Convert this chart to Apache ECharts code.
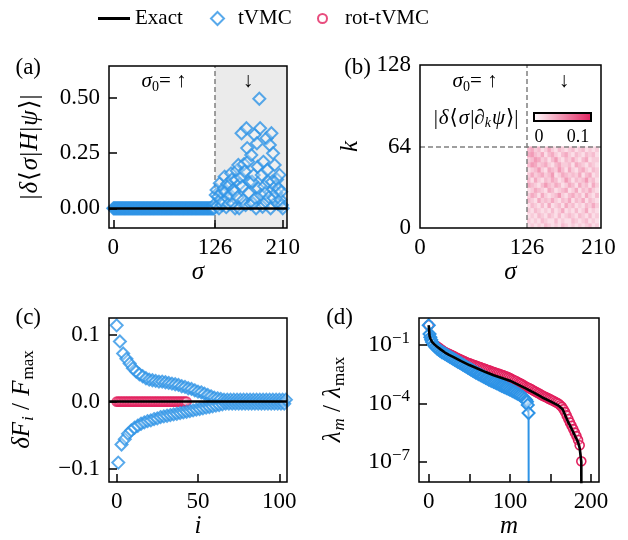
<!DOCTYPE html>
<html><head><meta charset="utf-8">
<script src="https://cdn.jsdelivr.net/npm/echarts@6/dist/echarts.min.js"></script>
<style>html,body{margin:0;padding:0;background:#fff}#c{width:628px;height:540px}</style>
</head><body><div id="c"></div>
<script>
// ---------------- data ----------------
// (a) |δ<σ|H|ψ>| for tVMC, σ = 0..210
const tvmcHLeft = [
 0,0,0,0,0,0,0,0,0,0,0,0,0,0,0,0,0,0,
 0,0,0,0,0,0,0,0,0,0,0,0,0,0,0,0,0,0,
 0,0,0,0,0,0,0,0,0,0,0,0,0,0,0,0,0,0,
 0,0,0,0,0,0,0,0,0,0,0,0,0,0,0,0,0,0,
 0,0,0,0,0,0,0,0,0,0,0,0,0,0,0,0,0,0,
 0,0,0,0,0,0,0,0,0,0,0,0,0,0,0,0,0,0,
 0,0,0,0,0,0,0,0,0,0,0,0,0,0,0,0,0,0
];
const tvmcHRight = [
 0.02,0.06,0.083,0.01,0.053,0.0,0.113,0.04,0.07,0.015,
 0.03,0.09,0.143,0.075,0.005,0.11,0.045,0.02,0.105,0.06,
 0.158,0.13,0.023,0.085,0.075,0.0,0.128,0.17,0.05,0.196,
 0.0,0.11,0.14,0.339,0.098,0.038,0.2,0.166,0.015,0.362,
 0.272,0.211,0.068,0.12,0.02,0.241,0.12,0.023,0.15,0.332,
 0.045,0.0,0.294,0.188,0.09,0.495,0.362,0.06,0.151,0.007,
 0.21,0.1,0.068,0.03,0.317,0.173,0.12,0.05,0.286,0.0,
 0.339,0.12,0.249,0.045,0.196,0.098,0.07,0.13,0.02,0.09,
 0.151,0.04,0.075,0.015,0.0
];
const sigmaSplit = 126;
const ticksAx = [0, 126, 210];
const ticksAy = [0, 0.25, 0.5];

// (b) |δ<σ|∂kψ>| heat map, cells of 4x4 starting at σ=126, k=0 (rows from k=0 upward)
const heatSigma0 = 126, heatCell = 4, heatMax = 0.1;
const heatRows = [
 [0.015,0.023,0.015,0.023,0.015,0.03,0.023,0.015,0.023,0.015,0.03,0.023,0.015,0.023,0.015,0.023,0.015,0.023,0.03,0.015,0.023],
 [0.023,0.015,0.023,0.015,0.03,0.023,0.015,0.015,0.03,0.015,0.023,0.015,0.015,0.03,0.023,0.015,0.023,0.03,0.015,0.023,0.015],
 [0.015,0.023,0.015,0.03,0.023,0.015,0.03,0.023,0.015,0.03,0.015,0.023,0.03,0.023,0.015,0.03,0.023,0.015,0.03,0.015,0.023],
 [0.023,0.015,0.03,0.023,0.015,0.023,0.015,0.03,0.015,0.023,0.038,0.015,0.023,0.015,0.03,0.015,0.023,0.038,0.015,0.023,0.015],
 [0.015,0.03,0.023,0.015,0.03,0.015,0.038,0.015,0.023,0.03,0.015,0.038,0.023,0.03,0.015,0.023,0.015,0.03,0.023,0.038,0.023],
 [0.03,0.023,0.015,0.038,0.023,0.03,0.023,0.038,0.023,0.015,0.03,0.023,0.038,0.015,0.03,0.023,0.038,0.015,0.03,0.023,0.015],
 [0.023,0.038,0.03,0.015,0.038,0.023,0.015,0.023,0.03,0.045,0.023,0.015,0.03,0.038,0.023,0.03,0.015,0.038,0.023,0.015,0.03],
 [0.015,0.023,0.038,0.03,0.023,0.015,0.038,0.03,0.015,0.023,0.03,0.038,0.015,0.023,0.038,0.015,0.03,0.023,0.038,0.023,0.015],
 [0.038,0.03,0.023,0.015,0.03,0.045,0.03,0.023,0.038,0.03,0.015,0.023,0.038,0.03,0.015,0.038,0.023,0.03,0.015,0.038,0.023],
 [0.03,0.015,0.038,0.023,0.015,0.03,0.023,0.038,0.03,0.015,0.023,0.045,0.03,0.015,0.03,0.023,0.03,0.045,0.023,0.03,0.015],
 [0.023,0.038,0.023,0.03,0.038,0.023,0.03,0.045,0.015,0.023,0.038,0.03,0.023,0.03,0.023,0.038,0.015,0.03,0.038,0.015,0.023],
 [0.015,0.023,0.03,0.045,0.023,0.015,0.038,0.03,0.023,0.045,0.03,0.015,0.038,0.023,0.015,0.03,0.038,0.023,0.015,0.03,0.023],
 [0.03,0.045,0.038,0.023,0.03,0.038,0.023,0.015,0.03,0.038,0.023,0.023,0.03,0.015,0.038,0.03,0.023,0.015,0.03,0.023,0.015],
 [0.023,0.03,0.045,0.038,0.023,0.03,0.015,0.03,0.045,0.023,0.015,0.03,0.023,0.038,0.023,0.015,0.03,0.038,0.015,0.023,0.023],
 [0.038,0.045,0.03,0.023,0.038,0.015,0.03,0.038,0.023,0.015,0.03,0.038,0.023,0.015,0.03,0.023,0.015,0.03,0.023,0.03,0.015],
 [0.03,0.038,0.023,0.03,0.015,0.023,0.038,0.023,0.015,0.03,0.023,0.015,0.023,0.03,0.015,0.023,0.03,0.015,0.023,0.015,0.023]
];
const ticksBx = [0, 126, 210];
const ticksBy = [0, 64, 128];
const colorbarLabels = ['0', '0.1'];

// (c) δF_i / F_max, i = 0..104
const tvmcF = [
 0.114,-0.091,0.090,-0.064,0.072,-0.056,0.064,-0.048,0.057,-0.043,
 0.050,-0.039,0.045,-0.036,0.041,-0.033,0.038,-0.031,0.035,-0.029,
 0.033,-0.028,0.032,-0.026,0.031,-0.025,0.030,-0.023,0.030,-0.022,
 0.029,-0.021,0.028,-0.020,0.027,-0.019,0.026,-0.018,0.025,-0.017,
 0.023,-0.016,0.022,-0.015,0.020,-0.014,0.019,-0.013,0.017,-0.012,
 0.015,-0.011,0.014,-0.010,0.012,-0.009,0.010,-0.008,0.008,-0.007,
 0.006,-0.006,0.005,-0.005,0.004,-0.004,0.003,-0.003,0.003,-0.003,
 0.003,-0.003,0.003,-0.003,0.003,-0.003,0.003,-0.003,0.003,-0.003,
 0.003,-0.003,0.003,-0.003,0.003,-0.003,0.003,-0.003,0.003,-0.003,
 0.003,-0.003,0.003,-0.003,0.003,-0.003,0.003,-0.003,0.003,-0.003,
 0.003,-0.003,0.003,-0.003,0.003
];
const rotF = [
 0,0,0,0,0,0,0,0,0,0,0,0,0,0,0,0,0,0,0,0,0,0,
 0,0,0,0,0,0,0,0,0,0,0,0,0,0,0,0,0,0,0,0,0,0
];
const ticksCx = [0, 50, 100];
const ticksCy = [-0.1, 0, 0.1];

// (d) log10(λ_m/λ_max); ZERO marks λ = 0 (falls below the axis floor)
const ZERO = -30;
const exactSpec = [[0,0],[1,-0.55],[2,-0.68],[4,-0.85],[7,-0.98],[10,-1.09],[15,-1.25],[20,-1.4],
 [25,-1.52],[30,-1.62],[40,-1.84],[50,-2.04],[60,-2.22],[70,-2.4],[80,-2.56],[90,-2.7],[100,-2.84],
 [110,-3.04],[120,-3.25],[130,-3.47],[140,-3.7],[150,-3.9],[160,-4.12],[165,-4.3],[168,-4.6],
 [172,-4.98],[176,-5.3],[180,-5.65],[184,-5.99],[186,-6.3],[188,-7.0],[189,ZERO]];
const tvmcSpec = [[0,0],[1,-0.45],[2,-0.62],[3,-0.75],[4,-0.86],
 [6,-1.0],[8,-1.1],[10,-1.18],[12,-1.25],[14,-1.31],[16,-1.37],[18,-1.42],[20,-1.47],[22,-1.52],[24,-1.57],
 [26,-1.62],[28,-1.67],[30,-1.72],[32,-1.77],[34,-1.82],[36,-1.87],[38,-1.92],[40,-1.97],[42,-2.02],[44,-2.07],
 [46,-2.12],[48,-2.17],[50,-2.22],[52,-2.27],[54,-2.32],[56,-2.37],[58,-2.42],[60,-2.46],[62,-2.51],[64,-2.55],
 [66,-2.6],[68,-2.64],[70,-2.69],[72,-2.73],[74,-2.78],[76,-2.82],[78,-2.86],[80,-2.9],[82,-2.94],[84,-2.98],
 [86,-3.02],[88,-3.06],[90,-3.1],[92,-3.14],[94,-3.18],[96,-3.22],[98,-3.26],[100,-3.3],[102,-3.34],[104,-3.38],
 [106,-3.42],[108,-3.47],[110,-3.52],[112,-3.57],[114,-3.62],[116,-3.68],[118,-3.75],[120,-3.83],
 [121,-3.92],[122,-4.08],[123,-4.5],[124,ZERO]];
const rotSpec = [[0,0],[2,-0.66],[4,-0.84],[6,-0.94],[8,-1.02],[10,-1.08],[12,-1.14],[14,-1.2],[16,-1.26],[18,-1.32],
 [20,-1.37],[22,-1.41],[24,-1.45],[26,-1.49],[28,-1.53],[30,-1.57],[32,-1.61],[34,-1.65],[36,-1.69],[38,-1.73],
 [40,-1.77],[42,-1.81],[44,-1.85],[46,-1.88],[48,-1.92],[50,-1.95],[52,-1.98],[54,-2.01],[56,-2.04],[58,-2.07],
 [60,-2.1],[62,-2.13],[64,-2.16],[66,-2.19],[68,-2.22],[70,-2.25],[72,-2.28],[74,-2.31],[76,-2.34],[78,-2.37],
 [80,-2.4],[82,-2.43],[84,-2.46],[86,-2.48],[88,-2.51],[90,-2.54],[92,-2.57],[94,-2.6],[96,-2.63],[98,-2.67],
 [100,-2.71],[102,-2.75],[104,-2.79],[106,-2.83],[108,-2.87],[110,-2.92],[112,-2.96],[114,-3.0],[116,-3.05],[118,-3.1],
 [120,-3.15],[122,-3.19],[124,-3.23],[126,-3.27],[128,-3.32],[130,-3.37],[132,-3.41],[134,-3.46],[136,-3.5],[138,-3.55],
 [140,-3.6],[142,-3.64],[144,-3.68],[146,-3.72],[148,-3.76],[150,-3.8],[152,-3.84],[154,-3.88],[156,-3.93],[158,-3.97],
 [160,-4.02],[162,-4.1],[164,-4.18],[166,-4.3],[168,-4.45],[170,-4.62],[172,-4.8],[174,-4.98],[176,-5.15],[178,-5.32],
 [180,-5.5],[182,-5.68],[184,-5.88],[186,-6.15],[188,-6.97]];
const ticksDx = [0, 50, 100, 150, 200];
const labelsDx = [0, 100, 200];
const ticksDy = [-7, -4, -1];

// ---------------- styling ----------------
const BLUE = '#2e93e6', PINK = '#e2205e', GRAYDASH = '#808080';
const FONT = '"Liberation Serif", "DejaVu Serif", serif';
const TICK = 23;
const A = {xmin:-5.3, xmax:215.3, ymin:-0.089, ymax:0.643};
const B = {xmin:0, xmax:213, ymin:0, ymax:128};
const C = {xmin:-4.7, xmax:104.7, ymin:-0.12, ymax:0.125};
const D = {xmin:-12, xmax:209.8, ymin:-8.03, ymax:0.37};

const tvmcA = tvmcHLeft.concat(tvmcHRight).map((v, s) => [s, v]);
const heatData = [];
heatRows.forEach((row, r) => row.forEach((v, c) => heatData.push([heatSigma0 + c * heatCell, r * heatCell, v])));
const tvmcC = tvmcF.map((v, i) => [i, v]);
const rotC = rotF.map((v, i) => [i, v]);

function heatColor(v) {
  const t = Math.max(0, Math.min(1, v / heatMax));
  const c0 = [255, 255, 255], c1 = [226, 32, 94];
  const c = c0.map((a, j) => Math.round(a + (c1[j] - a) * t));
  return 'rgb(' + c.join(',') + ')';
}

const rich = {
  i: {fontFamily: FONT, fontStyle: 'italic', fontSize: 25, lineHeight: 30, color: '#000', padding: [0, 1]},
  n: {fontFamily: FONT, fontSize: 25, lineHeight: 30, color: '#000'},
  sb: {fontFamily: FONT, fontStyle: 'italic', fontSize: 17, lineHeight: 17, verticalAlign: 'bottom', color: '#000'},
  sbr: {fontFamily: FONT, fontSize: 17, lineHeight: 17, verticalAlign: 'bottom', color: '#000'},
  b: {fontFamily: FONT, fontSize: 24, lineHeight: 30, color: '#000'},
  sup: {fontFamily: FONT, fontSize: 17, lineHeight: 17, verticalAlign: 'top', color: '#000'}
};
const smallRich = {
  i: {fontFamily: FONT, fontStyle: 'italic', fontSize: 21, lineHeight: 24, color: '#000', padding: [0, 1]},
  n: {fontFamily: FONT, fontSize: 21, lineHeight: 24, color: '#000'},
  sb: {fontFamily: FONT, fontStyle: 'italic', fontSize: 14, lineHeight: 14, verticalAlign: 'bottom', color: '#000'}
};
const topRich = {
  i: {fontFamily: FONT, fontStyle: 'italic', fontSize: 21, lineHeight: 26, color: '#000'},
  n: {fontFamily: FONT, fontSize: 21, lineHeight: 26, color: '#000'},
  sb: {fontFamily: FONT, fontSize: 14, lineHeight: 14, verticalAlign: 'bottom', color: '#000'}
};

function xAx(grid, ext, ticks, labels, name, showTicks) {
  return {
    type: 'value', gridIndex: grid, min: ext.xmin, max: ext.xmax, z: 6,
    axisLine: {show: false, onZero: false}, splitLine: {show: false},
    axisTick: {show: showTicks, inside: true, length: 8, customValues: ticks, lineStyle: {color: '#000', width: 1.5}},
    axisLabel: {customValues: labels, fontFamily: FONT, fontSize: TICK, color: '#000', margin: 8},
    name: name, nameLocation: 'middle', nameGap: 28,
    nameTextStyle: {fontFamily: FONT, fontStyle: 'italic', fontSize: 25, color: '#000'}
  };
}
function yAx(grid, ext, ticks, labels, fmt, name, gap, showTicks, nameStyle) {
  return {
    type: 'value', gridIndex: grid, min: ext.ymin, max: ext.ymax, z: 6,
    axisLine: {show: false, onZero: false}, splitLine: {show: false},
    axisTick: {show: showTicks, inside: true, length: 8, customValues: ticks, lineStyle: {color: '#000', width: 1.5}},
    axisLabel: {customValues: labels, fontFamily: FONT, fontSize: TICK, color: '#000', margin: 9, formatter: fmt, rich: rich},
    name: name, nameLocation: 'middle', nameGap: gap, nameRotate: 90,
    nameTextStyle: Object.assign({fontFamily: FONT, fontSize: 25, color: '#000', rich: rich}, nameStyle || {})
  };
}

const gridBase = {show: true, borderColor: '#000', borderWidth: 1.5, backgroundColor: 'transparent', z: 8};
const diamondStyle = {color: 'rgba(255,255,255,0.35)', borderColor: BLUE, borderWidth: 2};
const circleStyle = {color: 'rgba(255,255,255,0.3)', borderColor: PINK, borderWidth: 1.6};
const exactMark = {silent: true, symbol: ['none', 'none'], label: {show: false}, z: 5,
  lineStyle: {color: '#000', width: 2.6, type: 'solid'}, emphasis: {disabled: true}, data: [{yAxis: 0}]};

const legendText = {fontFamily: FONT, fontSize: 21, color: '#000'};

const option = {
  animation: false,
  backgroundColor: '#fff',
  legend: [
    {left: 98, top: 8, padding: 0, itemWidth: 32, itemHeight: 3, selectedMode: false, textStyle: legendText,
     data: [{name: 'Exact', icon: 'rect', itemStyle: {color: '#000', borderWidth: 0}}]},
    {left: 210, top: 8, padding: 0, itemWidth: 13, itemHeight: 13, selectedMode: false,
     textStyle: Object.assign({padding: [0, 0, 0, 9]}, legendText),
     data: [{name: 'tVMC', icon: 'diamond', itemStyle: {color: '#fff', borderColor: BLUE, borderWidth: 2}}]},
    {left: 317, top: 8, padding: 0, itemWidth: 9, itemHeight: 9, selectedMode: false,
     textStyle: Object.assign({padding: [0, 0, 0, 13]}, legendText),
     data: [{name: 'rot-tVMC', icon: 'circle', itemStyle: {color: '#fff', borderColor: PINK, borderWidth: 2}}]}
  ],
  grid: [
    Object.assign({left: 109, top: 66, width: 178, height: 162}, gridBase),
    Object.assign({left: 420, top: 65, width: 181, height: 163}, gridBase),
    Object.assign({left: 109, top: 318, width: 178, height: 164}, gridBase),
    Object.assign({left: 419, top: 318, width: 180, height: 164}, gridBase)
  ],
  xAxis: [
    xAx(0, A, ticksAx, ticksAx, 'σ', true),
    xAx(1, B, ticksBx, ticksBx, 'σ', false),
    xAx(2, C, ticksCx, ticksCx, 'i', true),
    xAx(3, D, ticksDx, labelsDx, 'm', true)
  ],
  yAxis: [
    yAx(0, A, ticksAy, ticksAy, v => v.toFixed(2), '|{i|δ}⟨{i|σ}|{i|H}|{i|ψ}⟩|', 64, true),
    yAx(1, B, ticksBy, ticksBy, v => String(v), 'k', 57, false, {fontStyle: 'italic', fontSize: 25}),
    yAx(2, C, ticksCy, ticksCy, v => (v < 0 ? '−' : '') + Math.abs(v).toFixed(1), '{i|δF}{sb|i}{n| / }{i|F}{sbr|max}', 72, true),
    yAx(3, D, ticksDy, ticksDy, v => '{b|10}{sup|−' + Math.abs(v) + '}', '{i|λ}{sb|m}{n| / }{i|λ}{sbr|max}', 71, true)
  ],
  series: [
    // (a)
    {name: 'tVMC', type: 'scatter', xAxisIndex: 0, yAxisIndex: 0, z: 3, symbol: 'diamond', symbolSize: 12,
     itemStyle: diamondStyle, emphasis: {disabled: true}, data: tvmcA,
     markArea: {silent: true, z: 0, itemStyle: {color: '#ebebeb'}, label: {show: false},
       data: [[{xAxis: sigmaSplit}, {xAxis: A.xmax}]]},
     markLine: {silent: true, z: 1, symbol: ['none', 'none'], label: {show: false},
       lineStyle: {color: GRAYDASH, width: 1.5, type: [5, 3]}, data: [{xAxis: sigmaSplit}]}},
    {name: 'Exact', type: 'line', xAxisIndex: 0, yAxisIndex: 0, z: 4, showSymbol: false,
     itemStyle: {color: '#000'}, lineStyle: {color: '#000', width: 2.6}, data: [], markLine: exactMark},
    // (b)
    {name: 'heat', type: 'custom', xAxisIndex: 1, yAxisIndex: 1, z: 2, silent: true, data: heatData,
     encode: {x: 0, y: 1},
     renderItem: function (params, api) {
       const x0 = api.value(0), y0 = api.value(1), v = api.value(2);
       const p0 = api.coord([x0, y0 + heatCell]);
       const p1 = api.coord([x0 + heatCell, y0]);
       return {type: 'rect', shape: {x: p0[0], y: p0[1], width: p1[0] - p0[0] + 0.5, height: p1[1] - p0[1] + 0.5},
         style: {fill: heatColor(v)}};
     }},
    {name: 'guides', type: 'scatter', xAxisIndex: 1, yAxisIndex: 1, data: [], silent: true,
     markLine: {silent: true, z: 5, symbol: ['none', 'none'], label: {show: false},
       lineStyle: {color: GRAYDASH, width: 1.5, type: [5, 3]}, data: [{xAxis: sigmaSplit}, {yAxis: 64}]}},
    // (c)
    {name: 'rot-tVMC', type: 'scatter', xAxisIndex: 2, yAxisIndex: 2, z: 2, symbol: 'circle', symbolSize: 9,
     itemStyle: circleStyle, emphasis: {disabled: true}, data: rotC},
    {name: 'tVMC', type: 'scatter', xAxisIndex: 2, yAxisIndex: 2, z: 3, symbol: 'diamond', symbolSize: 12,
     itemStyle: diamondStyle, emphasis: {disabled: true}, data: tvmcC},
    {name: 'Exact', type: 'line', xAxisIndex: 2, yAxisIndex: 2, z: 4, showSymbol: false,
     itemStyle: {color: '#000'}, lineStyle: {color: '#000', width: 2.6}, data: [], markLine: exactMark},
    // (d)
    {name: 'rot-tVMC', type: 'line', xAxisIndex: 3, yAxisIndex: 3, z: 2, symbol: 'circle', symbolSize: 9,
     showSymbol: true, showAllSymbol: true, itemStyle: circleStyle, lineStyle: {color: PINK, width: 1.5},
     emphasis: {disabled: true}, data: rotSpec},
    {name: 'tVMC', type: 'line', xAxisIndex: 3, yAxisIndex: 3, z: 3, symbol: 'diamond', symbolSize: 12,
     showSymbol: true, showAllSymbol: true, itemStyle: diamondStyle, lineStyle: {color: BLUE, width: 2},
     emphasis: {disabled: true}, data: tvmcSpec},
    {name: 'Exact', type: 'line', xAxisIndex: 3, yAxisIndex: 3, z: 4, showSymbol: false,
     itemStyle: {color: '#000'}, lineStyle: {color: '#000', width: 2.6}, emphasis: {disabled: true}, data: exactSpec}
  ],
  graphic: [
    {type: 'text', x: 41, y: 68, style: {text: '(a)', align: 'right', verticalAlign: 'middle', fontFamily: FONT, fontSize: 23, fill: '#000'}},
    {type: 'text', x: 371, y: 68, style: {text: '(b)', align: 'right', verticalAlign: 'middle', fontFamily: FONT, fontSize: 23, fill: '#000'}},
    {type: 'text', x: 41, y: 318, style: {text: '(c)', align: 'right', verticalAlign: 'middle', fontFamily: FONT, fontSize: 23, fill: '#000'}},
    {type: 'text', x: 353, y: 318, style: {text: '(d)', align: 'right', verticalAlign: 'middle', fontFamily: FONT, fontSize: 23, fill: '#000'}},
    {type: 'text', x: 164, y: 81, z: 20, style: {text: '{i|σ}{sb|0}{n|= ↑}', rich: topRich, align: 'center', verticalAlign: 'middle'}},
    {type: 'text', x: 248, y: 81, z: 20, style: {text: '↓', align: 'center', verticalAlign: 'middle', fontFamily: FONT, fontSize: 21, fill: '#000'}},
    {type: 'text', x: 475, y: 81, z: 20, style: {text: '{i|σ}{sb|0}{n|= ↑}', rich: topRich, align: 'center', verticalAlign: 'middle'}},
    {type: 'text', x: 564, y: 81, z: 20, style: {text: '↓', align: 'center', verticalAlign: 'middle', fontFamily: FONT, fontSize: 21, fill: '#000'}},
    {type: 'text', x: 476, y: 118, z: 20, style: {text: '{n||}{i|δ}{n|⟨}{i|σ}{n||∂}{sb|k}{i|ψ}{n|⟩|}', rich: smallRich, align: 'center', verticalAlign: 'middle'}},
    {type: 'rect', z: 20, shape: {x: 534, y: 113, width: 57, height: 8},
     style: {fill: {type: 'linear', x: 0, y: 0, x2: 1, y2: 0, colorStops: [{offset: 0, color: '#fff'}, {offset: 1, color: PINK}]},
       stroke: '#000', lineWidth: 2}},
    {type: 'text', x: 539, y: 137, z: 20, style: {text: colorbarLabels[0], align: 'center', verticalAlign: 'middle', fontFamily: FONT, fontSize: 18, fill: '#000'}},
    {type: 'text', x: 578, y: 137, z: 20, style: {text: colorbarLabels[1], align: 'center', verticalAlign: 'middle', fontFamily: FONT, fontSize: 18, fill: '#000'}}
  ]
};

const chart = echarts.init(document.getElementById('c'), null, {renderer: 'canvas'});
chart.setOption(option);
</script>
</body></html>
